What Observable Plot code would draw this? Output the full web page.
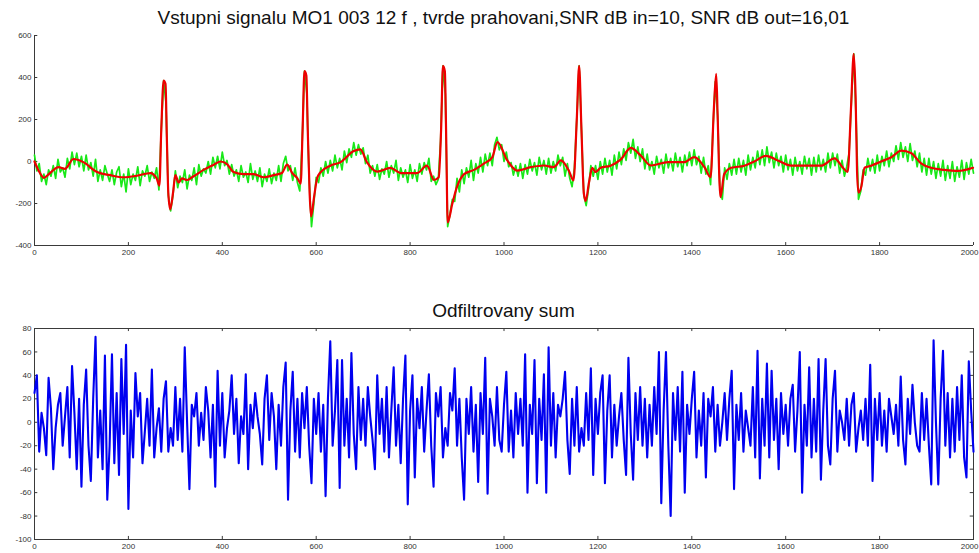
<!DOCTYPE html>
<html><head><meta charset="utf-8">
<script src="https://cdn.jsdelivr.net/npm/d3@7"></script>
<script src="https://cdn.jsdelivr.net/npm/@observablehq/plot@0.6"></script>
<style>
body{margin:0;background:#fff;overflow:hidden;}
#wrap{position:relative;width:979px;height:553px;overflow:hidden;font-family:"Liberation Sans",Arial,sans-serif;}
.title{position:absolute;left:34px;width:939px;text-align:center;font-size:19px;color:#111;white-space:nowrap;}
.plot{position:absolute;left:0;}
</style></head>
<body><div id="wrap">
<div class="title" id="t1" style="top:7px"></div>
<div class="plot" id="p1" style="top:25px"></div>
<div class="title" id="t2" style="top:300px"></div>
<div class="plot" id="p2" style="top:318px"></div>
</div>
<script>
const title1 = "Vstupni signalu MO1 003 12 f , tvrde prahovani,SNR dB in=10, SNR dB out=16,01";
const title2 = "Odfiltrovany sum";
const xTicks = [0,200,400,600,800,1000,1200,1400,1600,1800,2000];
const yTicksTop = [-400,-200,0,200,400,600];
const yTicksBottom = [-100,-80,-60,-40,-20,0,20,40,60,80];
const step = 5; // sample spacing of the green and blue series

// filtered ECG (red) key points
const redX = [0,8,20,33,51,65,83,104,133,161,190,218,247,260,266,270,275,279,282,285,289,295,300,307,314,325,339,360,382,396,410,424,446,467,488,510,527,538,549,560,567,571,575,579,582,586,589,596,602,609,630,652,680,694,708,730,758,780,815,836,851,861,866,870,874,877,880,890,900,915,936,957,975,986,1007,1028,1057,1085,1106,1121,1138,1148,1155,1160,1165,1170,1174,1181,1188,1195,1206,1227,1249,1270,1291,1313,1349,1384,1405,1427,1440,1447,1452,1455,1459,1461,1469,1484,1512,1533,1558,1583,1612,1647,1675,1704,1722,1732,1739,1745,1749,1752,1755,1761,1768,1782,1803,1825,1846,1867,1889,1910,1938,1967,1999];
const redY = [0,-40,-78,-55,-27,-35,12,-3,-50,-65,-75,-68,-55,-80,-115,150,385,370,100,-150,-228,-150,-65,-100,-80,-88,-70,-40,-15,0,-12,-50,-60,-60,-75,-65,-55,-15,-55,-80,-105,150,430,410,150,-150,-262,-160,-80,-52,-20,-3,50,58,-3,-48,-30,-55,-55,-20,-88,-75,150,455,430,100,-290,-200,-120,-60,-40,-10,20,92,5,-43,-27,-19,-27,5,-43,-90,200,455,150,-150,-188,-100,-30,-50,-30,-20,10,65,29,-19,-3,-3,21,-27,-75,250,417,220,-100,-170,-60,-30,-20,0,27,5,-20,-20,-20,15,-30,-50,250,513,300,-50,-148,-120,-30,-20,0,20,52,40,-10,-30,-40,-45,-30];

// noisy input ECG (green), one value every 5 samples
const greenY = [
30,-45,-10,-95,-60,-110,-40,-70,-20,-80,10,-50,-30,-75,15,-35,45,-15,40,-25,
25,-45,30,-40,-5,-70,10,-95,-40,-90,-20,-60,-95,-40,-110,-50,-25,-120,-60,-145,
-35,-110,-60,-90,-25,-115,-45,-70,-20,-95,-50,-80,-30,-135,150,385,280,-160,-235,-160,
-45,-125,-70,-100,-40,-130,-65,-90,-30,-110,-15,-70,-35,-55,0,-60,20,-30,25,-35,
45,-20,5,-60,-15,-70,-40,-95,-20,-75,-50,-100,-10,-85,-45,-95,-30,-120,-60,-95,
-35,-105,-55,-90,-20,-95,-10,25,-45,-20,-90,-30,-100,-140,85,430,325,-90,-310,-200,
-75,-100,-30,-70,0,-55,5,-45,30,-30,15,-40,50,-5,60,20,90,30,80,35,
65,-10,30,-55,-20,-70,-15,-85,-35,-60,0,-75,-20,-55,5,-90,-30,-75,-40,-100,
-15,-80,-40,-95,-10,-60,-5,-40,15,-95,-70,-110,-85,100,455,320,-310,-250,-180,-190,
-80,-145,-40,-105,-30,-75,5,-90,-10,-55,20,-50,35,-20,40,-20,80,115,55,80,
0,45,-25,-5,-65,-20,-70,-10,-80,-15,-60,10,-45,-5,-65,20,-40,5,-60,15,
-55,0,-45,30,-20,20,-70,-10,-80,-120,-30,200,455,150,-160,-210,-130,-20,-70,-20,
-85,0,-60,15,-50,5,-65,30,-35,45,-15,60,5,90,40,105,15,70,0,60,
-35,35,-40,0,-60,25,-30,10,-55,35,-30,15,-45,40,-25,20,-50,30,-20,45,
-20,55,-15,25,-55,20,-60,-20,-110,150,380,220,-140,-180,-30,-85,-10,-65,10,-60,
15,-50,5,-65,30,-40,20,-30,50,-15,55,-20,70,-5,45,-30,40,-20,25,-50,
30,-40,10,-65,20,-45,0,-60,25,-35,15,-65,20,-50,30,-40,10,-50,40,-30,
40,-20,35,-55,5,-70,-25,40,290,513,200,-180,-140,-40,-65,15,-45,10,-55,30,
-45,25,-20,50,-25,40,0,75,10,90,20,70,0,85,5,50,-25,40,-50,15,
-65,15,-60,0,-80,-10,-70,5,-90,-20,-80,0,-95,-25,-75,5,-85,-5,-60,10,
-55];

// filtered-out noise (blue), one value every 5 samples
const noiseY = [
25,40,-25,8,-5,-28,38,12,-40,-5,15,25,-20,5,30,-30,48,8,-40,20,
-55,15,45,-20,-50,20,73,-30,10,-40,57,-66,-20,58,-35,25,-45,54,-10,66,
-74,10,-30,42,5,25,-35,-8,20,-20,45,-30,-5,12,-25,20,35,-25,-5,-20,
30,-15,20,-25,64,0,-57,15,5,25,-20,8,-15,30,10,-30,15,-55,44,-20,
25,-30,-5,10,40,-10,20,-35,5,-10,41,-40,15,-5,25,5,-10,-36,20,40,
-15,25,5,-40,15,-20,30,51,-66,10,43,-25,20,-30,25,-5,30,-20,-52,20,
-10,25,-25,15,-63,20,69,-20,10,53,-56,53,-20,20,-30,59,-10,-40,30,-15,
20,-20,30,5,-15,-40,40,-10,20,-25,30,-30,10,47,-20,15,-35,20,57,-70,
10,40,-47,20,-5,30,-25,10,41,-20,-55,25,5,30,-30,-5,-20,25,10,46,
-20,20,-30,-66,20,-10,30,-25,15,-51,25,-10,55,-61,20,5,-20,30,-15,-25,
15,43,-25,10,-30,25,-10,20,-20,58,-60,15,-10,53,-52,20,-15,41,-60,64,
-20,25,-30,15,5,20,43,-15,-44,20,-20,30,-25,-5,-20,25,-15,46,-45,20,
-10,25,40,-52,10,40,-30,15,-20,5,25,-15,-45,55,-10,-49,25,-15,30,-20,
20,-30,15,-20,30,-10,60,-69,10,60,-20,-80,25,-15,30,-25,43,-60,15,-10,
20,43,-30,10,-20,25,-47,20,5,30,-25,15,-20,0,25,-15,20,44,-57,15,
-15,25,-25,10,-5,-20,30,-30,61,-48,20,-20,50,-30,44,-15,20,-40,25,-10,
15,-20,20,32,-25,10,60,-60,15,-20,47,-30,20,-25,54,-49,10,54,-20,-36,
20,44,-25,10,0,-15,20,-20,15,25,-25,-5,10,-15,20,-20,49,-50,20,-15,
25,-20,10,-25,20,5,-10,15,-20,39,-15,-36,20,-10,32,0,-20,-25,25,-15,
20,-20,-53,70,0,-53,20,61,-20,25,-30,20,-25,30,-15,40,-30,-47,52,10,
-25];

document.getElementById("t1").textContent = title1;
document.getElementById("t2").textContent = title2;

const red = redX.map((x, i) => ({x, y: redY[i]}));
const green = greenY.map((y, i) => ({x: i * step, y}));
const noise = noiseY.map((y, i) => ({x: i * step, y}));

const axisColor = "#3a3a3a";
const style = {fontSize: "8px", fontFamily: "'Liberation Sans', Arial, sans-serif", color: "#333", background: "transparent", overflow: "visible"};
const fmt = d => String(d);
const xLast = xTicks[xTicks.length - 1];
const xFmt = d => d === xLast ? "" : String(d);

const p1 = Plot.plot({
  width: 979, height: 238, marginTop: 10, marginBottom: 18, marginLeft: 34, marginRight: 6,
  style,
  x: {domain: [0, 2000], ticks: xTicks, tickSize: 0, tickPadding: 4, tickFormat: xFmt, label: null},
  y: {domain: [-400, 600], ticks: yTicksTop, tickSize: 0, tickPadding: 3, tickFormat: fmt, label: null},
  marks: [
    Plot.ruleX([0], {stroke: axisColor}),
    Plot.ruleY([-400], {stroke: axisColor}),
    Plot.ruleX(xTicks, {x: d => d, y1: -400, y2: -386, stroke: axisColor}),
    Plot.ruleY(yTicksTop, {y: d => d, x1: 0, x2: 7, stroke: axisColor}),
    Plot.text([xLast], {x: d => d, y: -400, text: fmt, textAnchor: "end", lineAnchor: "top", dx: 5, dy: 4, fill: "#333"}),
    Plot.line(green, {x: "x", y: "y", stroke: "#18e818", strokeWidth: 1.7}),
    Plot.line(red, {x: "x", y: "y", stroke: "#ee0000", strokeWidth: 2.2, curve: "monotone-x"})
  ]
});
document.getElementById("p1").appendChild(p1);

const p2 = Plot.plot({
  width: 979, height: 235, marginTop: 10, marginBottom: 14, marginLeft: 34, marginRight: 6,
  style,
  x: {domain: [0, 2000], ticks: xTicks, tickSize: 0, tickPadding: 4, tickFormat: xFmt, label: null},
  y: {domain: [-100, 80], ticks: yTicksBottom, tickSize: 0, tickPadding: 3, tickFormat: fmt, label: null},
  marks: [
    Plot.frame({stroke: axisColor}),
    Plot.ruleX(xTicks, {x: d => d, y1: -100, y2: -97.4, stroke: axisColor}),
    Plot.ruleX(xTicks, {x: d => d, y1: 80, y2: 77.4, stroke: axisColor}),
    Plot.ruleY(yTicksBottom, {y: d => d, x1: 0, x2: 7, stroke: axisColor}),
    Plot.ruleY(yTicksBottom, {y: d => d, x1: 2000, x2: 1993, stroke: axisColor}),
    Plot.text([xLast], {x: d => d, y: -100, text: fmt, textAnchor: "end", lineAnchor: "top", dx: 5, dy: 4, fill: "#333"}),
    Plot.line(noise, {x: "x", y: "y", stroke: "#0000f0", strokeWidth: 2.1})
  ]
});
document.getElementById("p2").appendChild(p2);
</script>
</body></html>
